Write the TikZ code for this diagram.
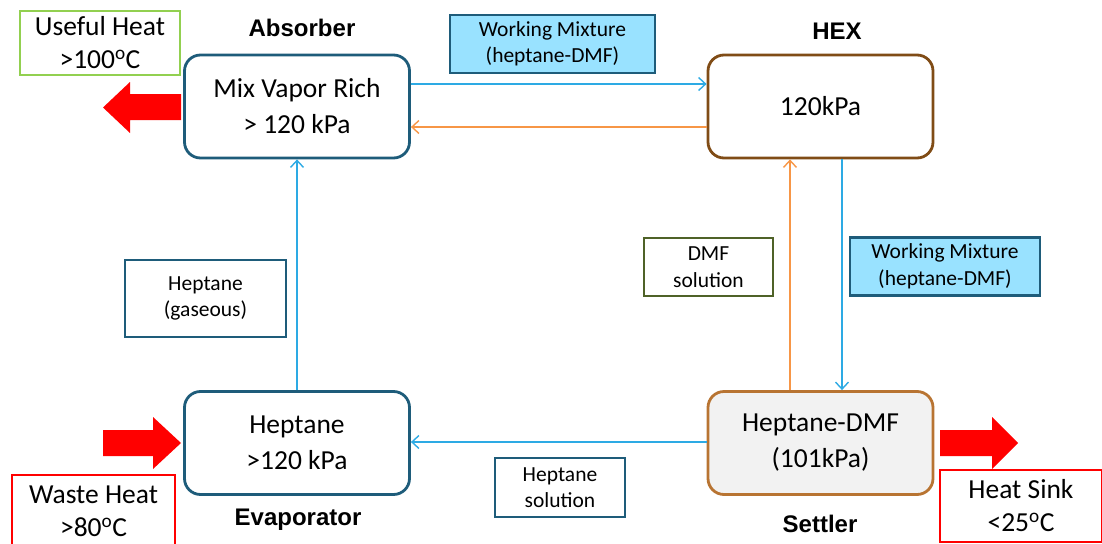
\documentclass[tikz,border=0pt]{standalone}
\usepackage{fontspec}
\setmainfont{Carlito}
\newfontfamily\headfont{Liberation Sans}
\usetikzlibrary{arrows.meta}
\definecolor{tealline}{RGB}{30,92,122}
\definecolor{mixfill}{RGB}{153,226,255}
\definecolor{flowblue}{RGB}{45,170,228}
\definecolor{floworange}{RGB}{247,150,70}
\definecolor{hexbrown}{RGB}{128,76,22}
\definecolor{settlerline}{RGB}{184,116,50}
\definecolor{settlerfill}{RGB}{242,242,242}
\definecolor{usefulgreen}{RGB}{146,208,80}
\definecolor{dmfgreen}{RGB}{79,98,40}
\definecolor{heatred}{RGB}{255,0,0}
\tikzset{
  unit/.style={draw, line width=2.8pt, rounded corners=16pt, minimum width=225pt,
    minimum height=103pt, align=center, font=\fontsize{27.5}{36}\selectfont, inner sep=0pt},
  tag/.style={draw=tealline, line width=2.8pt, align=center, inner sep=0pt,
    font=\fontsize{21.5}{26.5}\selectfont},
  heatbox/.style={draw, line width=2.2pt, align=center, inner sep=0pt,
    font=\fontsize{27.5}{33}\selectfont},
  heading/.style={font=\headfont\bfseries\fontsize{24}{28}\selectfont, inner sep=0pt},
  flow/.style={line width=1.4pt, -{Straight Barb[length=7pt,width=13pt,line width=1.4pt]}},
  fatarrow/.style={fill=heatred, draw=none}
}
\begin{document}
\begin{tikzpicture}[x=1pt,y=-1pt]
\useasboundingbox (0,0) rectangle (1102,543);

% process units
\node[unit, draw=tealline] (abs) at (297,106.5) {Mix Vapor Rich\\> 120 kPa};
\node[unit, draw=hexbrown] (hex) at (820.5,106.5) {120kPa};
\node[unit, draw=tealline] (eva) at (297,443) {Heptane\\>120 kPa};
\node[unit, draw=settlerline, fill=settlerfill] (set) at (820.5,443) {Heptane-DMF\\(101kPa)};

% unit headings
\node[heading] (habs) at (302,28) {Absorber};
\node[heading] (hhex) at (837,31) {HEX};
\node[heading] (heva) at (298,520) {Evaporator};
\node[heading] (hset) at (820,524) {Settler};

% stream labels
\node[tag, fill=mixfill, minimum width=205pt, minimum height=58pt] (wm1) at (552.5,44) {Working Mixture\\(heptane-DMF)};
\node[tag, fill=mixfill, minimum width=190pt, minimum height=58pt] (wm2) at (945,266.5) {Working Mixture\\(heptane-DMF)};
\node[tag, draw=dmfgreen, minimum width=129pt, minimum height=58pt] (dmf) at (708.5,267) {DMF\\solution};
\node[tag, minimum width=161pt, minimum height=77pt] (hgas) at (205.5,298.5) {Heptane\\(gaseous)};
\node[tag, minimum width=130pt, minimum height=59pt] (hsol) at (560,487.5) {Heptane\\solution};

% heat boxes
\node[heatbox, draw=usefulgreen, minimum width=160pt, minimum height=64pt] (useful) at (100,43) {Useful Heat\\>100\textsuperscript{o}C};
\node[heatbox, draw=heatred, minimum width=163pt, minimum height=72pt] (waste) at (93.5,511) {Waste Heat\\>80\textsuperscript{o}C};
\node[heatbox, draw=heatred, minimum width=162pt, minimum height=72pt] (sink) at (1021,506) {Heat Sink\\<25\textsuperscript{o}C};

% process streams
\draw[flow, flowblue] ([yshift=22.5pt]abs.east) -- ([yshift=22.5pt]hex.west);
\draw[flow, floworange] ([yshift=-20.5pt]hex.west) -- ([yshift=-20.5pt]abs.east);
\draw[flow, floworange] ([xshift=-30.5pt]set.north) -- ([xshift=-30.5pt]hex.south);
\draw[flow, flowblue] ([xshift=21.5pt]hex.south) -- ([xshift=21.5pt]set.north);
\draw[flow, flowblue] ([yshift=1pt]set.west) -- ([yshift=1pt]eva.east);
\draw[flow, flowblue] (eva.north) -- (abs.south);

% heat flows
\fill[fatarrow] (181,94) -- (130,94) -- (130,82) -- (103,107.5) -- (130,133) -- (130,120) -- (181,120) -- cycle;
\fill[fatarrow] (103,430) -- (153,430) -- (153,417) -- (181,443) -- (153,469) -- (153,456) -- (103,456) -- cycle;
\fill[fatarrow] (940,430) -- (992,430) -- (992,417) -- (1018,443) -- (992,469) -- (992,456) -- (940,456) -- cycle;
\end{tikzpicture}
\end{document}
